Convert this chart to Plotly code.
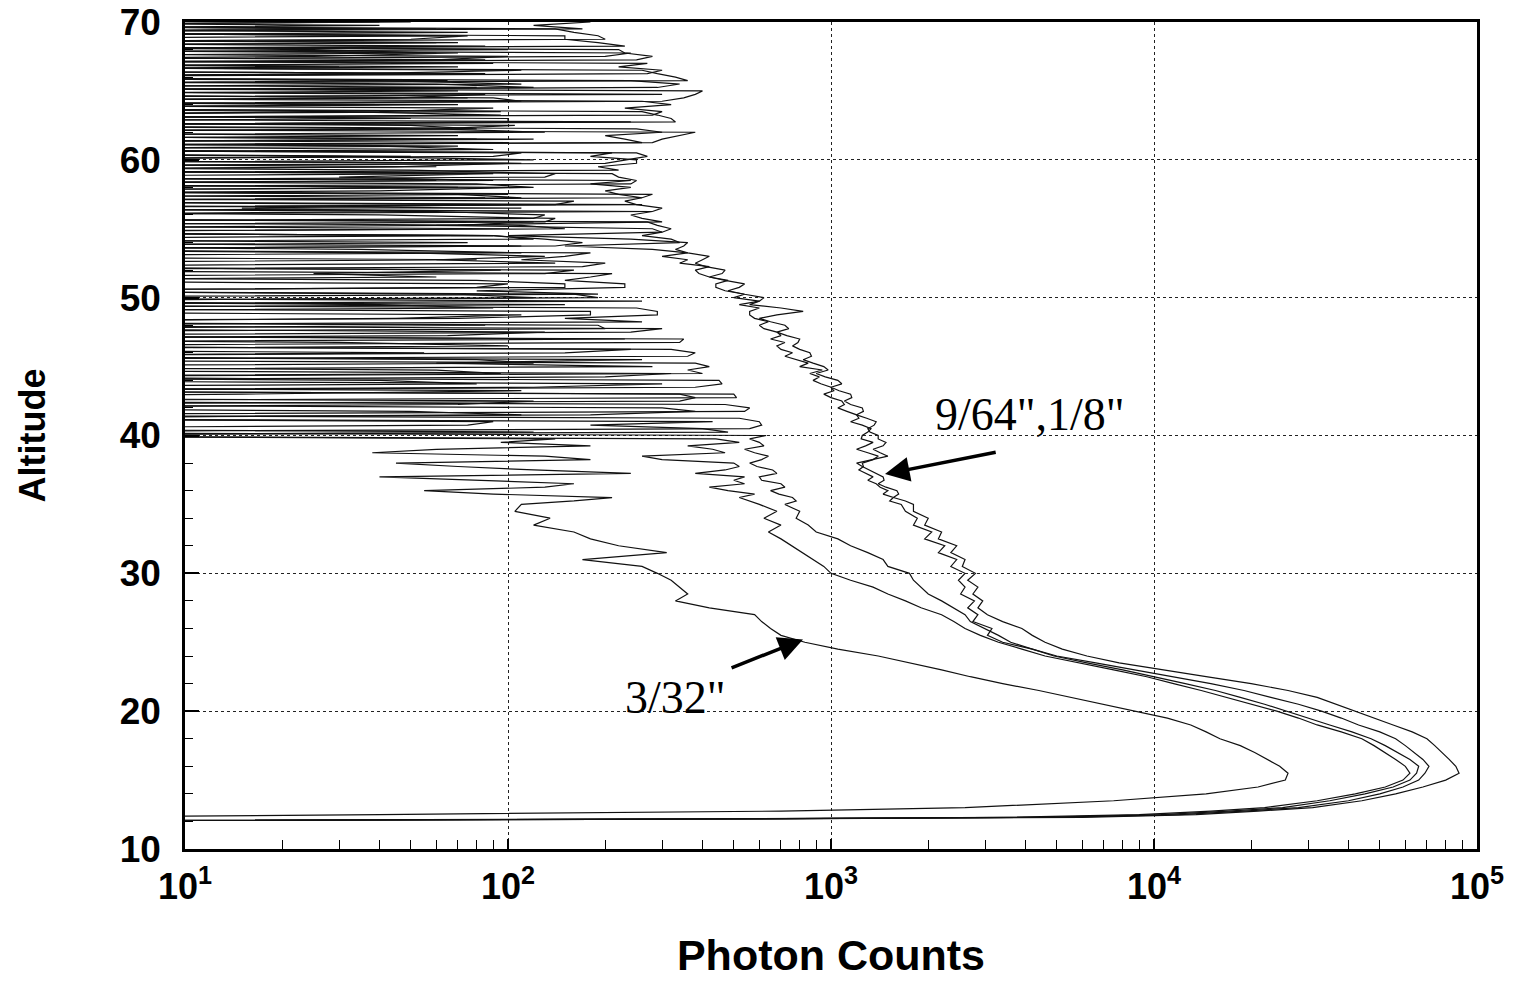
import numpy as np
import plotly.graph_objects as go

# Altitude samples (km): coarse below 35 km, fine in the noisy upper part
ALT_LOW = [12.0, 12.1, 12.2, 12.3, 12.5, 12.75, 13.0, 13.5, 14.0, 14.5,
           15.0, 15.5, 16.0, 16.5, 17.0, 17.5, 18.0, 18.5, 19.0, 19.5,
           20.0, 20.5, 21.0, 21.5, 22.0, 22.5, 23.0, 23.5, 24.0, 24.5,
           25.0, 25.5, 26.0, 26.5, 27.0, 27.5, 28.0, 28.5, 29.0, 29.5,
           30.0, 30.5, 31.0, 31.5, 32.0, 32.5, 33.0, 33.5, 34.0, 34.5]
ALT_HIGH = [35.0, 35.25, 35.5, 35.75, 36.0, 36.25, 36.5, 36.75,
            37.0, 37.25, 37.5, 37.75, 38.0, 38.25, 38.5, 38.75,
            39.0, 39.25, 39.5, 39.75, 40.0, 40.25, 40.5, 40.75,
            41.0, 41.25, 41.5, 41.75, 42.0, 42.25, 42.5, 42.75,
            43.0, 43.25, 43.5, 43.75, 44.0, 44.25, 44.5, 44.75,
            45.0, 45.25, 45.5, 45.75, 46.0, 46.25, 46.5, 46.75,
            47.0, 47.25, 47.5, 47.75, 48.0, 48.25, 48.5, 48.75,
            49.0, 49.25, 49.5, 49.75, 50.0, 50.25, 50.5, 50.75,
            51.0, 51.25, 51.5, 51.75, 52.0, 52.25, 52.5, 52.75,
            53.0, 53.25, 53.5, 53.75, 54.0, 54.25, 54.5, 54.75,
            55.0, 55.25, 55.5, 55.75, 56.0, 56.25, 56.5, 56.75,
            57.0, 57.25, 57.5, 57.75, 58.0, 58.25, 58.5, 58.75,
            59.0, 59.25, 59.5, 59.75, 60.0, 60.25, 60.5, 60.75,
            61.0, 61.25, 61.5, 61.75, 62.0, 62.25, 62.5, 62.75,
            63.0, 63.25, 63.5, 63.75, 64.0, 64.25, 64.5, 64.75,
            65.0, 65.25, 65.5, 65.75, 66.0, 66.25, 66.5, 66.75,
            67.0, 67.25, 67.5, 67.75, 68.0, 68.25, 68.5, 68.75,
            69.0, 69.25, 69.5, 69.75, 70.0]
ALT = ALT_LOW + ALT_HIGH

# Photon counts (values of 1 are dropouts below the axis)
A_LOW = [1, 1, 2, 4, 40, 700, 2600, 7500, 14500, 21000,
         25500, 26000, 24500, 22500, 20500, 18500, 16000, 14500, 13000, 11000,
         8800, 7000, 5500, 4400, 3400, 2700, 2200, 1750, 1400, 1050,
         830, 700, 650, 610, 580, 420, 330, 360, 340, 320,
         290, 260, 170, 310, 220, 180, 160, 120, 135, 105]
A_HIGH = [110, 160, 210, 90, 55, 130, 160, 75,
          40, 240, 120, 70, 45, 180, 130, 38,
          60, 180, 95, 140, 1, 120, 1, 75,
          90, 1, 110, 50, 1, 70, 120, 1,
          15, 110, 1, 80, 40, 1, 95, 60,
          1, 120, 80, 1, 55, 1, 100, 30,
          1, 65, 130, 3, 85, 1, 45, 110,
          1, 90, 40, 1, 120, 70, 2, 80,
          100, 1, 60, 25, 95, 1, 1, 80,
          1, 110, 35, 2, 75, 1, 90, 1,
          1, 70, 120, 1, 1, 60, 15, 95,
          1, 85, 1, 40, 110, 1, 60, 1,
          75, 1, 45, 100, 1, 50, 1, 90,
          40, 1, 80, 1, 1, 60, 105, 1,
          1, 95, 30, 1, 70, 1, 45, 85,
          1, 80, 1, 65, 1, 35, 110, 1,
          90, 1, 25, 70, 1, 85, 1, 50,
          75, 1, 60, 1, 40]

B_LOW = [1, 40, 500, 3500, 9000, 15000, 22000, 32000, 42000, 52000,
         59000, 62000, 60000, 56000, 52000, 48000, 44000, 38000, 32000, 28000,
         24000, 20000, 17000, 14000, 11500, 9500, 7500, 5800, 4600, 3900,
         3300, 2900, 2600, 2400, 2200, 1900, 1700, 1500, 1350, 1150,
         1000, 950, 880, 820, 760, 700, 640, 700, 620, 680]
B_HIGH = [600, 560, 520, 580, 480, 420, 540, 500,
          540, 380, 470, 520, 500, 300, 260, 470,
          430, 360, 520, 440, 1, 480, 400, 180,
          430, 1, 180, 380, 300, 1, 340, 380,
          340, 1, 120, 300, 1, 200, 320, 1,
          280, 60, 260, 1, 150, 240, 1, 1,
          230, 1, 1, 200, 190, 1, 70, 180,
          180, 1, 150, 1, 190, 160, 1, 150,
          150, 80, 1, 130, 160, 1, 140, 60,
          130, 50, 1, 110, 1, 120, 90, 1,
          100, 1, 130, 140, 40, 1, 110, 1,
          1, 110, 70, 1, 70, 1, 90, 30,
          90, 1, 60, 1, 120, 30, 1, 80,
          1, 100, 1, 70, 1, 80, 50, 1,
          50, 1, 95, 1, 40, 1, 75, 1,
          70, 1, 110, 40, 1, 85, 1, 30,
          1, 85, 1, 60, 25, 1, 60, 1,
          1, 75, 1, 40, 1]

C_LOW = [1, 50, 700, 4500, 10500, 17000, 25000, 35000, 45000, 55000,
         62000, 65000, 66000, 62000, 57000, 52000, 47000, 41000, 35000, 30000,
         26000, 22000, 18500, 15500, 12500, 10000, 8000, 6200, 4900, 4200,
         3600, 3300, 3000, 2700, 2600, 2400, 2200, 2000, 1900, 1800,
         1750, 1500, 1450, 1300, 1150, 1050, 900, 850, 780, 800]
C_HIGH = [720, 780, 760, 690, 650, 720, 700, 610,
          600, 680, 660, 590, 560, 610, 640, 580,
          540, 620, 600, 560, 630, 1, 560, 610,
          600, 520, 1, 540, 560, 470, 1, 510,
          500, 1, 380, 460, 450, 1, 400, 360,
          420, 380, 1, 360, 380, 320, 1, 340,
          350, 1, 240, 300, 1, 260, 150, 290,
          290, 250, 1, 260, 1, 190, 80, 230,
          230, 150, 180, 210, 1, 170, 200, 110,
          150, 180, 1, 140, 170, 130, 90, 1,
          150, 110, 1, 120, 130, 60, 1, 140,
          160, 1, 100, 1, 120, 80, 1, 130,
          140, 50, 1, 110, 1, 90, 110, 1,
          70, 1, 120, 1, 130, 60, 1, 100,
          100, 1, 40, 90, 1, 110, 90, 1,
          1, 120, 60, 1, 1, 80, 1, 70,
          1, 60, 100, 1, 100, 1, 70, 1,
          70, 1, 40, 1, 50]

D_LOW = [1, 50, 800, 5000, 12000, 19000, 28000, 40000, 50000, 59000,
         66000, 69000, 71000, 68000, 64000, 60000, 56000, 50000, 43000, 38000,
         33000, 28000, 23000, 19000, 15000, 11500, 8800, 6600, 5000, 4200,
         3400, 3050, 3150, 2750, 2850, 2650, 2780, 2520, 2600, 2480,
         2600, 2350, 2450, 2150, 2250, 1950, 2050, 1800, 1850, 1700]
D_HIGH = [1650, 1520, 1560, 1450, 1500, 1420, 1380, 1300,
          1350, 1280, 1220, 1260, 1250, 1350, 1400, 1300,
          1200, 1280, 1350, 1240, 1250, 1300, 1330, 1250,
          1150, 1220, 1200, 1120, 1050, 1100, 1080, 1000,
          950, 1020, 1000, 930, 880, 920, 860, 940,
          800, 850, 780, 720, 760, 700, 680, 720,
          650, 700, 680, 620, 600, 640, 580, 560,
          560, 600, 520, 600, 500, 540, 470, 440,
          440, 480, 420, 390, 380, 420, 340, 360,
          300, 360, 280, 150, 340, 320, 260, 300,
          280, 60, 300, 260, 240, 280, 1, 260,
          1, 260, 220, 200, 240, 180, 240, 1,
          1, 220, 190, 250, 250, 180, 210, 1,
          1, 260, 230, 200, 300, 250, 1, 240,
          1, 280, 300, 230, 320, 260, 1, 300,
          1, 290, 340, 240, 1, 270, 300, 220,
          270, 1, 200, 240, 1, 230, 190, 150,
          150, 1, 170, 120, 180]

E_LOW = [1, 60, 900, 6000, 13500, 21000, 31000, 44000, 56000, 68000,
         80000, 88000, 86000, 82000, 78000, 74000, 70000, 63000, 55000, 48000,
         42000, 37000, 32000, 26000, 20000, 14500, 10500, 7800, 6200, 5200,
         4600, 4200, 3900, 3400, 3050, 2850, 2950, 2750, 2850, 2650,
         2800, 2550, 2600, 2350, 2450, 2150, 2200, 1950, 2000, 1800]
E_HIGH = [1800, 1700, 1560, 1620, 1600, 1480, 1400, 1460,
          1450, 1380, 1300, 1250, 1200, 1350, 1500, 1420,
          1350, 1450, 1480, 1400, 1400, 1320, 1300, 1360,
          1380, 1290, 1200, 1260, 1250, 1150, 1100, 1160,
          1150, 1060, 1000, 1080, 1050, 960, 900, 980,
          950, 880, 820, 870, 860, 800, 760, 790,
          800, 730, 680, 740, 720, 650, 600, 680,
          820, 700, 560, 600, 620, 540, 480, 520,
          540, 470, 420, 460, 470, 410, 380, 400,
          420, 360, 330, 350, 360, 240, 100, 300,
          320, 290, 270, 1, 1, 280, 300, 250,
          230, 260, 280, 1, 1, 240, 250, 220,
          210, 1, 1, 200, 230, 270, 250, 1,
          1, 280, 300, 340, 380, 1, 1, 330,
          320, 290, 260, 1, 1, 300, 350, 380,
          400, 1, 1, 360, 330, 290, 260, 1,
          1, 250, 280, 230, 220, 1, 1, 200,
          190, 160, 140, 1, 1]

SERIES = [
    ('3/32"', A_LOW + A_HIGH),
    ('profile 2', B_LOW + B_HIGH),
    ('profile 3', C_LOW + C_HIGH),
    ('9/64"', D_LOW + D_HIGH),
    ('1/8"', E_LOW + E_HIGH),
]

X_MAJOR = [10, 100, 1000, 10000, 100000]
X_MAJOR_TEXT = ['<b>10<sup>1</sup></b>', '<b>10<sup>2</sup></b>', '<b>10<sup>3</sup></b>',
                '<b>10<sup>4</sup></b>', '<b>10<sup>5</sup></b>']
Y_MAJOR = [10, 20, 30, 40, 50, 60, 70]

for name, vals in SERIES:
    assert len(vals) == len(ALT), (name, len(vals), len(ALT))

fig = go.Figure()
for name, vals in SERIES:
    fig.add_trace(go.Scatter(x=vals, y=ALT, mode='lines', name=name,
                             line=dict(color='#111111', width=1.2)))

sans = 'Liberation Sans, Arial, sans-serif'
serif = 'Liberation Serif, Times New Roman, serif'
x_minor = [m * 10 ** e for e in range(1, 5) for m in range(2, 10)]

fig.update_xaxes(
    type='log', range=[1, 5],
    tickmode='array', tickvals=X_MAJOR, ticktext=X_MAJOR_TEXT,
    ticks='inside', ticklen=10, tickwidth=1.5, tickcolor='black',
    showgrid=True, gridcolor='#222222', griddash='dot', gridwidth=1,
    showline=True, linecolor='black', linewidth=2.5, mirror=True,
    zeroline=False,
    minor=dict(tickmode='array', tickvals=x_minor, ticks='inside', ticklen=9,
               tickwidth=1.2, tickcolor='black', showgrid=False),
    tickfont=dict(family=sans, size=36, color='black'),
    ticklabelstandoff=4,
    title=dict(text='<b>Photon Counts</b>', font=dict(family=sans, size=43, color='black'),
               standoff=34),
)
fig.update_yaxes(
    range=[10, 70], tickmode='array', tickvals=Y_MAJOR,
    ticktext=['<b>%d</b>' % v for v in Y_MAJOR],
    ticks='inside', ticklen=14, tickwidth=1.5, tickcolor='black',
    showgrid=True, gridcolor='#222222', griddash='dot', gridwidth=1,
    showline=True, linecolor='black', linewidth=2.5, mirror=True,
    zeroline=False,
    minor=dict(tick0=10, dtick=2, ticks='inside', ticklen=8, tickwidth=1.2,
               tickcolor='black', showgrid=False),
    tickfont=dict(family=sans, size=37, color='black'),
    ticklabelstandoff=14,
    title=dict(text='<b>Altitude</b>', font=dict(family=sans, size=36, color='black'),
               standoff=64),
)

# Labels with arrows
fig.add_annotation(x=np.log10(4130), y=41.5, xref='x', yref='y', text='9/64",1/8"',
                   showarrow=False, font=dict(family=serif, size=46, color='black'))
fig.add_annotation(x=np.log10(1470), y=37.2, ax=np.log10(3270), ay=38.8,
                   xref='x', yref='y', axref='x', ayref='y', text='',
                   showarrow=True, arrowhead=2, arrowsize=1.4, arrowwidth=3.5,
                   arrowcolor='black', standoff=0)
fig.add_annotation(x=np.log10(329), y=21.0, xref='x', yref='y', text='3/32"',
                   showarrow=False, font=dict(family=serif, size=46, color='black'))
fig.add_annotation(x=np.log10(819), y=25.2, ax=np.log10(487), ay=23.1,
                   xref='x', yref='y', axref='x', ayref='y', text='',
                   showarrow=True, arrowhead=2, arrowsize=1.4, arrowwidth=3.5,
                   arrowcolor='black', standoff=0)

fig.update_layout(
    width=1513, height=982,
    margin=dict(l=185, r=36, t=22, b=133, autoexpand=False),
    plot_bgcolor='white', paper_bgcolor='white',
    showlegend=False,
)

fig.write_html('out.html')
